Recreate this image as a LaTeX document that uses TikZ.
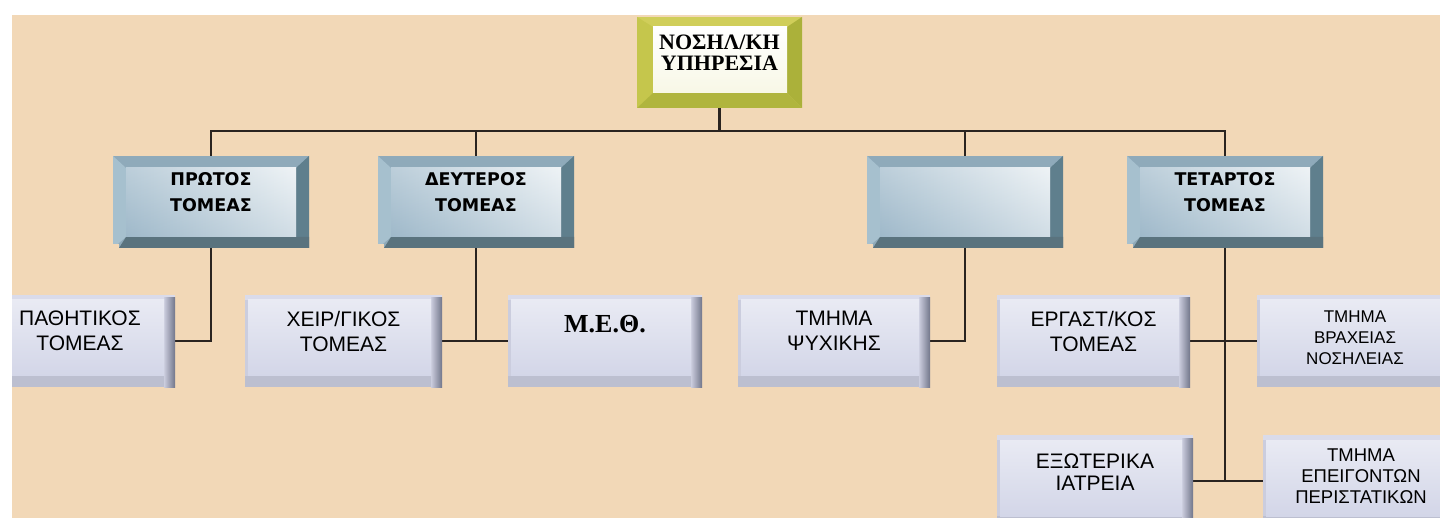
\documentclass[tikz,border=0pt]{standalone}
\usepackage{fontspec}
\usetikzlibrary{calc}
\newfontfamily\arialf{Liberation Sans}
\newfontfamily\timesf{Liberation Serif}
\newfontfamily\heavyf{DejaVu Sans}

\definecolor{peach}{HTML}{F2D8B7}
\definecolor{linec}{HTML}{2A2420}
% steel-blue bevel of the sector boxes
\definecolor{secTop}{HTML}{8FAABA}
\definecolor{secLeft}{HTML}{A6C0CE}
\definecolor{secRight}{HTML}{5F7F8D}
\definecolor{secBottom}{HTML}{5A737E}
\definecolor{secFace}{HTML}{9FB9CA}
% olive bevel of the head box
\definecolor{chTop}{HTML}{D0CE5A}
\definecolor{chLeft}{HTML}{C5C64C}
\definecolor{chRight}{HTML}{ABB13A}
\definecolor{chBottom}{HTML}{B0B53E}
% lavender buttons of the departments
\definecolor{btnOut}{HTML}{CBCDDE}
\definecolor{btnTop}{HTML}{DADBEA}
\definecolor{btnBottom}{HTML}{BCBFD0}
\definecolor{btnDark}{HTML}{72768A}
\definecolor{btnFace}{HTML}{D3D6E8}

\pgfdeclarelayer{bg}
\pgfdeclarelayer{lines}
\pgfsetlayers{bg,lines,main}

\tikzset{
  conn/.style={draw=linec, line width=2.6pt},
  subconn/.style={draw=linec, line width=2.2pt},
  % head box with olive bevel
  chiefbox/.style={rectangle, inner sep=0pt, minimum width=165pt, minimum height=91pt,
    fill=chTop,
    path picture={
      \path (path picture bounding box.north west) coordinate (pnw)
            (path picture bounding box.south east) coordinate (pse);
      \fill[chLeft] (pnw) -- ++(16pt,-10pt) -- ($(pnw|-pse)+(16pt,15pt)$) -- (pnw|-pse) -- cycle;
      \fill[chRight] (pse|-pnw) -- ++(-15pt,-10pt) -- ($(pse)+(-15pt,15pt)$) -- (pse) -- cycle;
      \fill[chBottom] (pnw|-pse) -- ($(pnw|-pse)+(16pt,15pt)$) -- ($(pse)+(-15pt,15pt)$) -- (pse) -- cycle;
      \shade[top color=white, bottom color=white!85!chTop]
        ($(pnw)+(16pt,-10pt)$) rectangle ($(pse)+(-15pt,15pt)$);
    }},
  chieftext/.style={inner sep=0pt, align=center, yshift=10pt,
    font={\timesf\bfseries\fontsize{22pt}{21pt}\selectfont}},
  % sector box with steel-blue bevel
  sectorbox/.style={rectangle, inner sep=0pt, minimum width=196pt, minimum height=92pt,
    fill=secTop,
    path picture={
      \path (path picture bounding box.north west) coordinate (pnw)
            (path picture bounding box.south east) coordinate (pse);
      \fill[secLeft] (pnw) -- ++(13pt,-12pt) -- ($(pnw|-pse)+(13pt,11pt)$) -- (pnw|-pse) -- cycle;
      \fill[secRight] (pse|-pnw) -- ++(-13pt,-12pt) -- ($(pse)+(-13pt,11pt)$) -- (pse) -- cycle;
      \fill[peach] (pnw|-pse) rectangle ($(pnw|-pse)+(6pt,4pt)$);
      \fill[secBottom] ($(pnw|-pse)+(6pt,0pt)$) -- ($(pnw|-pse)+(13pt,11pt)$)
        -- ($(pse)+(0pt,11pt)$) -- (pse) -- cycle;
      \shade[left color=secFace, middle color=white, right color=white!75!secFace]
        ($(pnw)+(13pt,-12pt)$) rectangle ($(pse)+(-13pt,11pt)$);
      \shade[top color=white, bottom color=secFace, opacity=0.3]
        ($(pnw)+(13pt,-12pt)$) rectangle ($(pse)+(-13pt,11pt)$);
    }},
  sectortext/.style={inner sep=0pt, align=center, yshift=10pt,
    font={\heavyf\bfseries\fontsize{17.5pt}{26pt}\selectfont}},
  % department button
  deptbox/.style={rectangle, inner sep=0pt, minimum width=195pt, minimum height=92pt,
    fill=btnOut,
    path picture={
      \path (path picture bounding box.north west) coordinate (pnw)
            (path picture bounding box.south east) coordinate (pse);
      \fill[btnTop] (pnw) rectangle ($(pse|-pnw)+(0pt,-5pt)$);
      \fill[btnBottom] ($(pnw|-pse)+(0pt,11pt)$) rectangle (pse);
      \shade[left color=btnOut, right color=btnDark]
        ($(pse|-pnw)+(-11pt,-3pt)$) rectangle (pse);
      \shade[left color=btnFace, middle color=white, right color=btnFace]
        ($(pnw)+(3pt,-5pt)$) rectangle ($(pse)+(-11pt,11pt)$);
      \shade[top color=white, middle color=white, bottom color=btnFace, opacity=0.5]
        ($(pnw)+(3pt,-5pt)$) rectangle ($(pse)+(-11pt,11pt)$);
    }},
  depttext/.style={inner sep=0pt, align=center, yshift=10pt,
    font={\arialf\fontsize{21pt}{25pt}\selectfont}},
  deptsmall/.style={inner sep=0pt, align=center,
    font={\arialf\fontsize{17pt}{21pt}\selectfont}},
  deptserif/.style={inner sep=0pt, align=center, yshift=17pt,
    font={\timesf\bfseries\fontsize{26pt}{30pt}\selectfont}},
}

\begin{document}
\begin{tikzpicture}[x=1pt, y=-1pt]
\useasboundingbox (0,0) rectangle (1440,518);

\begin{pgfonlayer}{bg}
  \fill[white] (0,0) rectangle (1440,518);
  \fill[peach] (12,15) rectangle (1440,518);
\end{pgfonlayer}

\begin{scope}
\clip (12,15) rectangle (1440,518);

% head
\node[chiefbox, label={[chieftext]center:{ΝΟΣΗΛ/ΚΗ\\ΥΠΗΡΕΣΙΑ}}] (chief) at (719.5,62.5) {};

% sectors
\node[sectorbox, label={[sectortext]center:{ΠΡΩΤΟΣ\\ΤΟΜΕΑΣ}}] (s1) at (211,202) {};
\node[sectorbox, label={[sectortext]center:{ΔΕΥΤΕΡΟΣ\\ΤΟΜΕΑΣ}}] (s2) at (476,202) {};
\node[sectorbox] (s3) at (965,202) {};
\node[sectorbox, label={[sectortext]center:{ΤΕΤΑΡΤΟΣ\\ΤΟΜΕΑΣ}}] (s4) at (1225,202) {};

% departments
\node[deptbox, minimum width=190pt, label={[depttext]center:{ΠΑΘΗΤΙΚΟΣ\\ΤΟΜΕΑΣ}}] (pas) at (80,341) {};
\node[deptbox, minimum width=197pt, label={[depttext]center:{ΧΕΙΡ/ΓΙΚΟΣ\\ΤΟΜΕΑΣ}}] (chir) at (343.5,341) {};
\node[deptbox, minimum width=194pt, label={[deptserif]center:{Μ.Ε.Θ.}}] (meth) at (605,341) {};
\node[deptbox, minimum width=192pt, label={[depttext]center:{ΤΜΗΜΑ\\ΨΥΧΙΚΗΣ}}] (psy) at (834,341) {};
\node[deptbox, minimum width=193pt, label={[depttext]center:{ΕΡΓΑΣΤ/ΚΟΣ\\ΤΟΜΕΑΣ}}] (erg) at (1093.5,341) {};
\node[deptbox, minimum width=196pt, label={[deptsmall, yshift=3pt]center:{ΤΜΗΜΑ\\ΒΡΑΧΕΙΑΣ\\ΝΟΣΗΛΕΙΑΣ}}] (vrax) at (1355,341) {};
\node[deptbox, minimum width=196pt, label={[depttext, yshift=-1pt, font={\arialf\fontsize{21pt}{22pt}\selectfont}]center:{ΕΞΩΤΕΡΙΚΑ\\ΙΑΤΡΕΙΑ}}] (ext) at (1095,481) {};
\node[deptbox, minimum width=196pt, label={[deptsmall, yshift=5pt, font={\arialf\fontsize{18.5pt}{21pt}\selectfont}]center:{ΤΜΗΜΑ\\ΕΠΕΙΓΟΝΤΩΝ\\ΠΕΡΙΣΤΑΤΙΚΩΝ}}] (epeig) at (1361,481) {};
\end{scope}

% connectors
\begin{pgfonlayer}{lines}
  \coordinate (bus) at (720,131);
  \draw[conn] (chief.south) -- (chief.south |- bus);
  \draw[conn] (s1.north) -- (s1.north |- bus) -- (s4.north |- bus) -- (s4.north);
  \draw[conn] (s2.north) -- (s2.north |- bus);
  \draw[conn] (s3.north) -- (s3.north |- bus);

  \draw[subconn] (s1.south) |- (pas.east);
  \draw[subconn] (s2.south) -- (s2.south |- chir.east);
  \draw[subconn] (chir.east) -- (meth.west);
  \draw[subconn] (s3.south) |- (psy.east);
  \draw[subconn] (s4.south) -- (s4.south |- ext.east);
  \draw[subconn] (erg.east) -- (vrax.west);
  \draw[subconn] (ext.east) -- (epeig.west);
\end{pgfonlayer}
\end{tikzpicture}
\end{document}
